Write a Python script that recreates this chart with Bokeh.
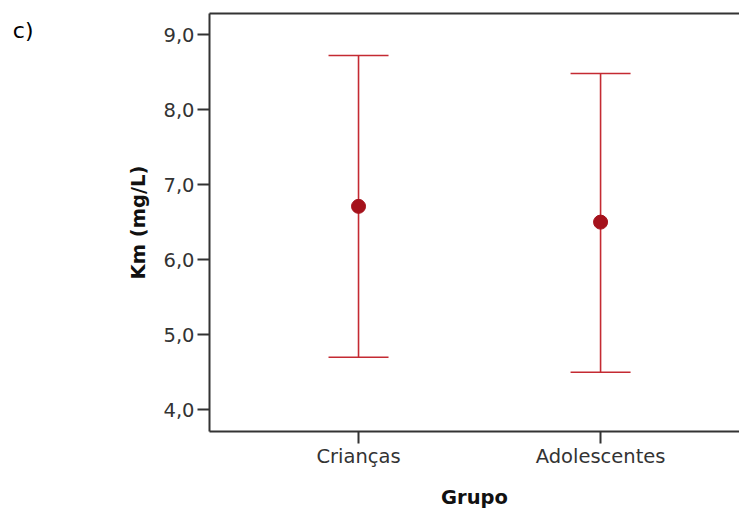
from bokeh.plotting import figure
from bokeh.models import ColumnDataSource, Whisker, TeeHead, LinearAxis, FixedTicker, Range1d
from bokeh.embed import file_html
from bokeh.resources import INLINE

groups = ["Crianças", "Adolescentes"]
positions = [1, 2]
means = [6.71, 6.50]
upper = [8.72, 8.48]
lower = [4.70, 4.50]
y_ticks = [4.0, 5.0, 6.0, 7.0, 8.0, 9.0]
y_tick_labels = ["4,0", "5,0", "6,0", "7,0", "8,0", "9,0"]
panel_tag = "c)"
panel_tag_y = 9.05

src = ColumnDataSource(dict(x=positions, mean=means, upper=upper, lower=lower))

p = figure(width=739, height=511, output_backend="svg", toolbar_location=None,
           x_range=Range1d(0.3843, 2.574), y_range=Range1d(3.71, 9.28),
           min_border_left=209, min_border_top=13, min_border_bottom=80, min_border_right=0)
p.outline_line_color = None
p.xgrid.visible = False
p.ygrid.visible = False

FONT = "DejaVu Sans"
AX = "#333333"
for ax in (p.xaxis[0], p.yaxis[0]):
    ax.axis_line_color = AX
    ax.axis_line_width = 2
    ax.major_tick_line_color = AX
    ax.major_tick_line_width = 2
    ax.major_tick_in = 0
    ax.major_tick_out = 12
    ax.minor_tick_line_color = None
    ax.major_label_text_font = FONT
    ax.major_label_text_font_size = "19.5px"
    ax.major_label_text_color = "#333333"
    ax.axis_label_text_font = FONT
    ax.axis_label_text_font_size = "19.5px"
    ax.axis_label_text_font_style = "bold"
    ax.axis_label_text_color = "#111111"

p.xaxis[0].ticker = FixedTicker(ticks=positions)
p.xaxis[0].major_label_overrides = {pos: g for pos, g in zip(positions, groups)}
p.xaxis[0].major_label_standoff = 1
p.xaxis[0].axis_label = "Grupo"
p.xaxis[0].axis_label_standoff = 15

p.yaxis[0].ticker = FixedTicker(ticks=y_ticks)
p.yaxis[0].major_label_overrides = {t: l for t, l in zip(y_ticks, y_tick_labels)}
p.yaxis[0].major_label_standoff = 3
p.yaxis[0].axis_label = "Km (mg/L)"
p.yaxis[0].axis_label_standoff = 10

# top border line
top_axis = LinearAxis(ticker=FixedTicker(ticks=[]), axis_line_color=AX, axis_line_width=2,
                      major_tick_line_color=None, minor_tick_line_color=None,
                      major_label_standoff=0)
p.add_layout(top_axis, "above")

# panel tag "c)" placed in the left margin via an extra (invisible) axis
tag_axis = LinearAxis(ticker=FixedTicker(ticks=[panel_tag_y]),
                      major_label_overrides={panel_tag_y: panel_tag},
                      major_label_orientation="horizontal",
                      axis_line_color=None, major_tick_line_color=None,
                      minor_tick_line_color=None, major_tick_in=0, major_tick_out=0,
                      major_label_standoff=91, major_label_text_font=FONT,
                      major_label_text_font_size="22px", major_label_text_color="black")
p.add_layout(tag_axis, "left")

RED = "#c42a32"
w = Whisker(source=src, base="x", upper="upper", lower="lower",
            line_color=RED, line_width=1.6,
            upper_head=TeeHead(size=60, line_color=RED, line_width=1.6),
            lower_head=TeeHead(size=60, line_color=RED, line_width=1.6))
p.add_layout(w)
p.scatter("x", "mean", source=src, size=14, fill_color="#a5121c", line_color="#a5121c")

open("out.html", "w").write(file_html(p, INLINE))
